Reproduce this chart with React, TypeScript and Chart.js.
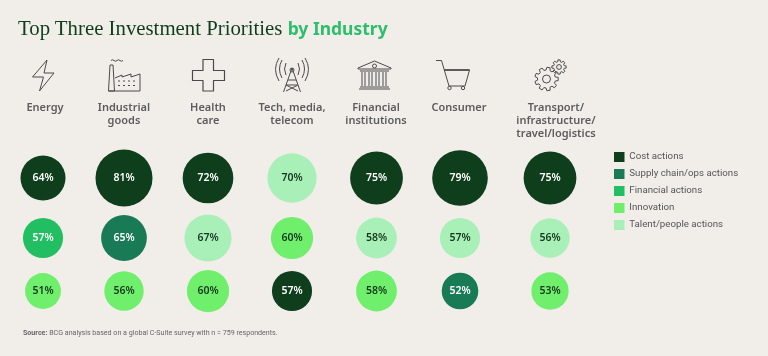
import React, { useEffect, useRef } from "react";
import { Chart, registerables } from "chart.js";

Chart.register(...registerables);

const categories = [
  ["Energy"],
  ["Industrial", "goods"],
  ["Health", "care"],
  ["Tech, media,", "telecom"],
  ["Financial", "institutions"],
  ["Consumer"],
  ["Transport/", "infrastructure/", "travel/logistics"],
];
const actions = ["Cost actions", "Supply chain/ops actions", "Financial actions", "Innovation", "Talent/people actions"];
const actionColors = ["#0E3E1B", "#197A56", "#21BF61", "#6FEF6C", "#A9F0B8"];
const labelColors = ["#FFFFFF", "#FFFFFF", "#FFFFFF", "#17361F", "#17361F"];

const firstValues = [64, 81, 72, 70, 75, 79, 75];
const firstActions = [0, 0, 0, 4, 0, 0, 0];
const secondValues = [57, 65, 67, 60, 58, 57, 56];
const secondActions = [2, 1, 4, 3, 4, 4, 4];
const thirdValues = [51, 56, 60, 57, 58, 52, 53];
const thirdActions = [3, 3, 3, 0, 3, 1, 3];

// layout constants (pixels on the page)
const columnCentres = [43, 124, 208, 292, 376.5, 460, 550];
const labelCentres = [45, 124, 208, 292, 376, 459, 556];
const rowCentres = [178, 238, 291];
const AREA_TOP = 141;
const DIAMETER_PER_POINT = 0.704;

const rows = [
  { values: firstValues, kinds: firstActions },
  { values: secondValues, kinds: secondActions },
  { values: thirdValues, kinds: thirdActions },
];

const pointsFor = (kind: number) => {
  const out: any[] = [];
  rows.forEach((row, r) =>
    row.values.forEach((v, c) => {
      if (row.kinds[c] === kind) {
        out.push({ x: columnCentres[c], y: rowCentres[r], r: (v * DIAMETER_PER_POINT) / 2, v });
      }
    })
  );
  return out;
};

const FONT = '"Noto Sans", sans-serif';
const LIGHT_FONT = 'Roboto, sans-serif';

const placeLegend = {
  id: "placeLegend",
  afterLayout(chart: any) {
    const l = chart.legend;
    const pad = l.options.labels.padding;
    l.left = 614 - pad;
    l.right = 768;
    l.width = l.right - l.left;
    l.top = 152 - pad;
    l.bottom = 356;
    l.height = l.bottom - l.top;
  },
};

const bubbleText = {
  id: "bubbleText",
  afterDatasetsDraw(chart: any) {
    const ctx = chart.ctx;
    ctx.save();
    ctx.font = `600 10.5px ${FONT}`;
    ctx.textAlign = "center";
    ctx.textBaseline = "middle";
    chart.data.datasets.forEach((ds: any, i: number) => {
      chart.getDatasetMeta(i).data.forEach((el: any, j: number) => {
        ctx.fillStyle = labelColors[i];
        ctx.fillText(`${ds.data[j].v}%`, el.x, el.y + 0.5);
      });
    });
    ctx.restore();
  },
};

const stroke = { fill: "none", stroke: "#4a4a4a", strokeWidth: 1, strokeLinejoin: "round" as const };

// outline of a toothed wheel for the icon
const gearPath = (cx: number, cy: number, outer: number, inner: number, teeth: number) => {
  const pts: string[] = [];
  const step = (Math.PI * 2) / teeth;
  for (let i = 0; i < teeth; i++) {
    const a = i * step;
    [
      [inner, -0.32],
      [outer, -0.2],
      [outer, 0.2],
      [inner, 0.32],
    ].forEach(([rad, off]) => {
      const t = a + off * step;
      pts.push(`${(cx + rad * Math.cos(t)).toFixed(2)} ${(cy + rad * Math.sin(t)).toFixed(2)}`);
    });
  }
  return `M${pts.join(" L")} Z`;
};

function Icons() {
  return (
    <svg width={768} height={356} style={{ position: "absolute", left: 0, top: 0, pointerEvents: "none" }}>
      <g {...stroke}>
        {/* bolt */}
        <path d="M47 60 L32.5 77 L43.5 77 L39.5 91 L54 73 L44 73 Z" />
        {/* factory */}
        <path d="M108.5 91 L110 65 L113 65 L114.5 91 Z M108.5 91 H140 V74 L131 77 V74 L122 77 V75 L115 78" />
        <path d="M111 60.5 q1.5 -1.5 3 0 t3 0 t3 0 t3 0" />
        <path d="M118 81 H138 M118 85.5 H138" strokeDasharray="2 3" />
        {/* cross */}
        <path d="M203 59.5 H213.5 V70.5 H224.5 V80.5 H213.5 V91 H203 V80.5 H192.5 V70.5 H203 Z" strokeWidth={1.2} />
        {/* antenna */}
        <path d="M292 68 L283.5 92 M292 68 L300.5 92 M288 80 H296 M286 85 L297 85 M286 85 L298 91 M298 85 L286 91" />
        <circle cx={292} cy={70} r={2} />
        <path d="M286 63 q-3 6 0 12 M298 63 q3 6 0 12 M282 60 q-5 9 0 18 M302 60 q5 9 0 18 M279 58 q-7 11 0 23 M305 58 q7 11 0 23" />
        {/* bank */}
        <path d="M358 68 L374.5 61 L391 68 L391 69 H358 Z" />
        <circle cx={374.5} cy={66} r={2} />
        <path d="M360 71 H389 M362 72 V86 M365 72 V86 M369 72 V86 M372 72 V86 M376 72 V86 M379 72 V86 M383 72 V86 M386 72 V86 M360 87 H389 M359 89 H390" />
        {/* cart */}
        <path d="M436 60.5 H441.5 L449 86 H465 L469.5 70 H444" />
        <path d="M444 70 H469.5" strokeWidth={1.6} />
        <circle cx={449.5} cy={88} r={1.7} />
        <circle cx={463} cy={88} r={1.7} />
        {/* gears */}
        <path d={gearPath(546.5, 79, 11.8, 9, 9)} />
        <circle cx={546.5} cy={79} r={4} />
        <path d={gearPath(559, 67, 7.2, 5.4, 8)} />
        <circle cx={559} cy={67} r={2.4} />
      </g>
    </svg>
  );
}

export default function App() {
  const ref = useRef<HTMLCanvasElement>(null);
  useEffect(() => {
    const chart = new Chart(ref.current as HTMLCanvasElement, {
      type: "bubble",
      data: {
        datasets: actions.map((label, i) => ({
          label,
          data: pointsFor(i),
          backgroundColor: actionColors[i],
          borderWidth: 0,
          hoverBorderWidth: 0,
          clip: false,
        })),
      } as any,
      plugins: [placeLegend, bubbleText],
      options: {
        animation: false,
        responsive: false,
        layout: { autoPadding: false, padding: { top: 100, left: 0, right: 0, bottom: 0 } },
        plugins: {
          title: { display: false },
          tooltip: { enabled: false },
          legend: {
            position: "chartArea",
            align: "start",
            onClick: () => {},
            labels: {
              boxWidth: 10.5,
              boxHeight: 10,
              padding: 7,
              color: "#555555",
              font: { family: LIGHT_FONT, size: 9.7 },
            },
          },
        },
        scales: {
          x: {
            type: "linear",
            position: "top",
            min: 0,
            max: 768,
            afterBuildTicks(s: any) {
              s.ticks = labelCentres.map((value) => ({ value }));
            },
            afterFit(s: any) {
              s.height = AREA_TOP - 100;
              s.paddingLeft = 0;
              s.paddingRight = 0;
            },
            grid: { display: false, drawTicks: false },
            border: { display: false },
            ticks: {
              autoSkip: false,
              maxRotation: 0,
              minRotation: 0,
              crossAlign: "far",
              padding: 1,
              color: "#5c5c5c",
              font: { family: FONT, size: 11, weight: 600, lineHeight: 1.18 },
              callback: (value: any) => categories[labelCentres.indexOf(value)],
            },
          },
          y: {
            type: "linear",
            display: false,
            reverse: true,
            min: AREA_TOP,
            max: 356,
          },
        },
      } as any,
    });
    return () => chart.destroy();
  }, []);

  return (
    <div style={{ position: "fixed", left: 0, top: 0, width: 768, height: 356, background: "#F1EEEA", overflow: "hidden" }}>
      <canvas ref={ref} width={768} height={356} style={{ display: "block", position: "absolute", left: 0, top: 0 }} />
      <Icons />
      <div style={{ position: "absolute", left: 18, top: 14, whiteSpace: "nowrap", fontSize: 20.8, lineHeight: "28px", fontFamily: '"Liberation Serif", serif', color: "#0E3E1B" }}>
        Top Three Investment Priorities{" "}
        <span style={{ fontFamily: FONT, fontWeight: 700, fontSize: 17.5, color: "#2DBE6C" }}>by Industry</span>
      </div>
      <div style={{ position: "absolute", left: 23, top: 328, whiteSpace: "nowrap", fontSize: 7.1, lineHeight: "10px", fontFamily: LIGHT_FONT, color: "#666666" }}>
        <b>Source:</b> BCG analysis based on a global C-Suite survey with n = 759 respondents.
      </div>
    </div>
  );
}
